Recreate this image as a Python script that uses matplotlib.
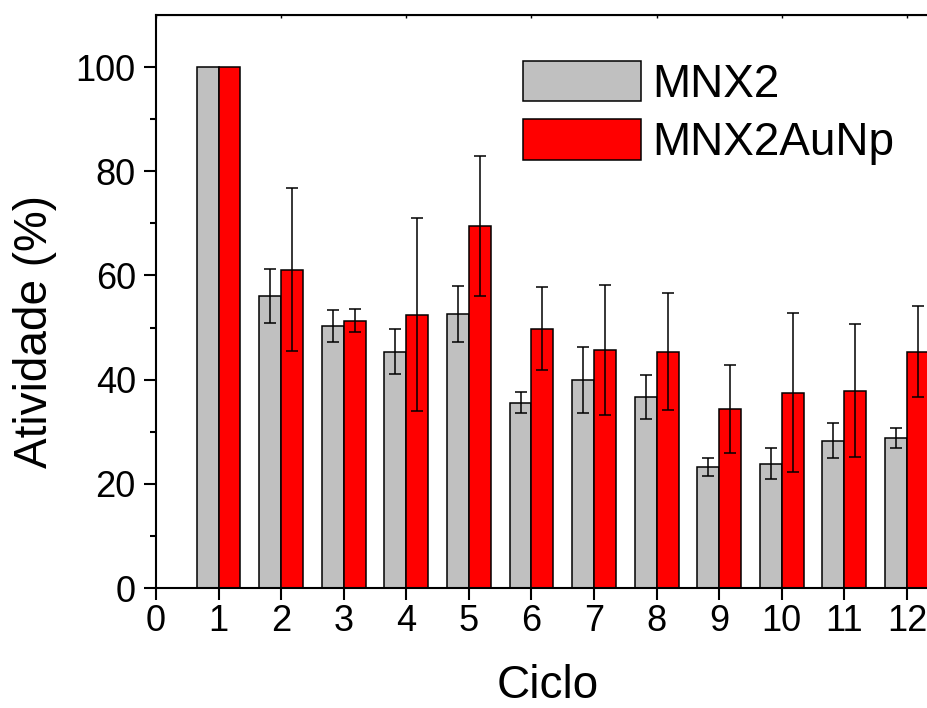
import matplotlib
matplotlib.use("Agg")
import matplotlib.pyplot as plt
import numpy as np

plt.rcParams['font.family'] = ['Liberation Sans', 'DejaVu Sans']

# dados
ciclos = [1, 2, 3, 4, 5, 6, 7, 8, 9, 10, 11, 12]
mnx2 = [100, 56.1, 50.3, 45.4, 52.6, 35.6, 39.9, 36.6, 23.2, 23.9, 28.3, 28.8]
mnx2_err = [0, 5.2, 3.1, 4.4, 5.3, 2.0, 6.4, 4.2, 1.7, 3.0, 3.3, 2.0]
mnx2aunp = [100, 61.1, 51.3, 52.5, 69.5, 49.8, 45.7, 45.4, 34.4, 37.5, 37.9, 45.4]
mnx2aunp_err = [0, 15.6, 2.2, 18.5, 13.4, 8.0, 12.4, 11.2, 8.5, 15.3, 12.8, 8.8]
xticks = list(range(0, 13))
yticks = [0, 20, 40, 60, 80, 100]

W, H = 927, 708
fig = plt.figure(figsize=(W / 100, H / 100), dpi=100)
ax = fig.add_axes([156 / W, 1 - 588 / H, (W - 156) / W, (588 - 15) / H])

x = np.array(ciclos, dtype=float)
w = 0.35
ax.bar(x - w / 2, mnx2, w, color='#C0C0C0', edgecolor='black', linewidth=1.1,
       label='MNX2', zorder=2)
ax.bar(x + w / 2, mnx2aunp, w, color='#FF0000', edgecolor='black', linewidth=1.1,
       label='MNX2AuNp', zorder=2)

# barras de erro (ciclo 1 sem erro)
ax.errorbar(x[1:] - w / 2, mnx2[1:], yerr=mnx2_err[1:], fmt='none', ecolor='black',
            elinewidth=1.1, capsize=4, capthick=1.1, zorder=3)
ax.errorbar(x[1:] + w / 2, mnx2aunp[1:], yerr=mnx2aunp_err[1:], fmt='none', ecolor='black',
            elinewidth=1.1, capsize=4, capthick=1.1, zorder=3)

ax.set_xlim(0, 12.32)
ax.set_ylim(0, 110)
ax.set_xticks(xticks)
ax.set_yticks(yticks)
ax.set_yticks(np.arange(10, 110, 20), minor=True)

ax.spines['right'].set_visible(False)
for s in ['left', 'bottom', 'top']:
    ax.spines[s].set_linewidth(1.5)

ax.tick_params(axis='both', which='major', labelsize=26, width=1.5, length=8.5, direction='out')
ax.tick_params(axis='x', which='major', pad=3)
ax.tick_params(axis='y', which='major', pad=6)
ax.tick_params(axis='y', which='minor', width=1.5, length=4, direction='out')
# pequenos ticks no topo
ax.secondary_xaxis('top').tick_params(direction='in', length=2.5, width=1.0, labeltop=False)

ax.set_xlabel('Ciclo', fontsize=33, va='baseline')
ax.xaxis.set_label_coords((547.5 - 156) / 771, (588 - 698) / 573)
ax.set_ylabel('Atividade (%)', fontsize=33)
ax.yaxis.set_label_coords((57 - 156) / 771, (588 - 332) / 573)

leg = ax.legend(loc='upper left', bbox_to_anchor=(523 / W, 1 - 61 / H),
                bbox_transform=fig.transFigure, frameon=False, fontsize=33,
                handlelength=2.58, handleheight=0.98, handletextpad=0.25,
                labelspacing=0.27, borderpad=0, borderaxespad=0)

fig.savefig('out.png', dpi=100)
